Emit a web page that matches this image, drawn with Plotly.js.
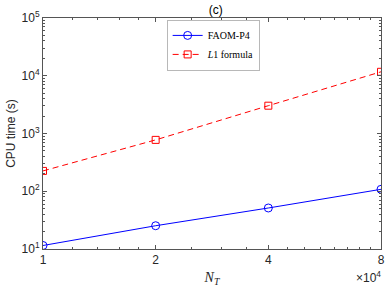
<!DOCTYPE html>
<html><head><meta charset="utf-8">
<script src="https://cdn.plot.ly/plotly-3.0.1.min.js"></script>
<style>html,body{margin:0;padding:0;background:#fff}#chart{width:390px;height:287px}</style>
</head><body><div id="chart"></div>
<script>
// Data (N_T values, CPU time in seconds)
const NT = [10000, 20000, 40000, 80000];
const faomP4 = [11.5, 25.3, 51.3, 108];
const l1Formula = [225, 775, 3030, 11700];
const xTickVals = [10000, 20000, 40000, 80000];
const xTickText = ['1', '2', '4', '8'];
const yTickVals = [10, 100, 1000, 10000, 100000];
const yTickText = ['10<sup>1</sup>', '10<sup>2</sup>', '10<sup>3</sup>', '10<sup>4</sup>', '10<sup>5</sup>'];

// minor tick positions (styling only)
const xMinor = [];
[[1,2,0.2],[2,4,0.5],[4,8,0.5]].forEach(([a,b,s])=>{for(let v=a+s;v<b-1e-9;v+=s) xMinor.push(v*1e4);});
const yMinor = [];
for (let e=1;e<5;e++) for (let m=2;m<10;m++) yMinor.push(m*Math.pow(10,e));

const axCol = '#555';
const xr = [4, Math.log10(80000)];
const yr = [1, 5];

const traces = [
  {x: NT, y: faomP4, name: 'FAOM-P4', mode: 'lines+markers', type: 'scatter',
   line: {color: '#0000ff', width: 1}, marker: {symbol: 'circle-open', size: 8, color: '#0000ff', line: {width: 1}}},
  {x: NT, y: l1Formula, name: '<i>L</i>1 formula', mode: 'lines+markers', type: 'scatter',
   line: {color: '#ff0000', width: 1, dash: '6px,4px'}, marker: {symbol: 'square-open', size: 7, color: '#ff0000', line: {width: 1}}},
  {x: [], y: [], xaxis: 'x2', yaxis: 'y2', showlegend: false, hoverinfo: 'skip'}
];

const layout = {
  width: 390, height: 287,
  margin: {l: 43, r: 9, t: 18, b: 38},
  paper_bgcolor: '#fff', plot_bgcolor: '#fff',
  font: {family: 'Liberation Sans, Arial, sans-serif', size: 12, color: '#262626'},
  title: {text: '(c)', x: 0.553, xanchor: 'center', y: 0.965, yanchor: 'middle', font: {size: 12, color: '#000'}},
  showlegend: true,
  legend: {x: 0.367, y: 0.99, xanchor: 'left', yanchor: 'top', bgcolor: '#fff', bordercolor: '#888', borderwidth: 0.6,
           font: {family: 'Liberation Serif, Times New Roman, serif', size: 10, color: '#000'},
           tracegroupgap: 0, itemwidth: 30},
  xaxis: {type: 'log', range: xr, tickvals: xTickVals, ticktext: xTickText, ticks: 'inside', ticklen: 4,
          tickcolor: axCol, showline: true, linecolor: axCol, linewidth: 1, mirror: 'ticks', showgrid: false, zeroline: false,
          tickfont: {size: 12, color: '#262626'},
          title: {text: '<i>N</i><sub><i>T</i></sub>', standoff: 6, font: {family: 'Liberation Serif, Times New Roman, serif', size: 14, color: '#262626'}}},
  yaxis: {type: 'log', range: yr, tickvals: yTickVals, ticktext: yTickText, ticks: 'inside', ticklen: 4,
          tickcolor: axCol, showline: true, linecolor: axCol, linewidth: 1, mirror: 'ticks', showgrid: false, zeroline: false,
          tickfont: {size: 12, color: '#262626'},
          title: {text: 'CPU time (s)', standoff: 3, font: {size: 12, color: '#262626'}}},
  xaxis2: {type: 'log', range: xr, overlaying: 'x', tickvals: xMinor, ticktext: xMinor.map(()=>''), ticks: 'inside', ticklen: 2,
           tickcolor: axCol, mirror: 'ticks', showline: false, showgrid: false, zeroline: false, showticklabels: false},
  yaxis2: {type: 'log', range: yr, overlaying: 'y', tickvals: yMinor, ticktext: yMinor.map(()=>''), ticks: 'inside', ticklen: 2,
           tickcolor: axCol, mirror: 'ticks', showline: false, showgrid: false, zeroline: false, showticklabels: false},
  annotations: [{text: '×10<sup>4</sup>', xref: 'paper', yref: 'paper', x: 1.005, y: -0.08, xanchor: 'right', yanchor: 'top',
                 showarrow: false, font: {size: 12, color: '#262626'}}]
};

Plotly.newPlot('chart', traces, layout, {displayModeBar: false, staticPlot: true});
</script></body></html>
